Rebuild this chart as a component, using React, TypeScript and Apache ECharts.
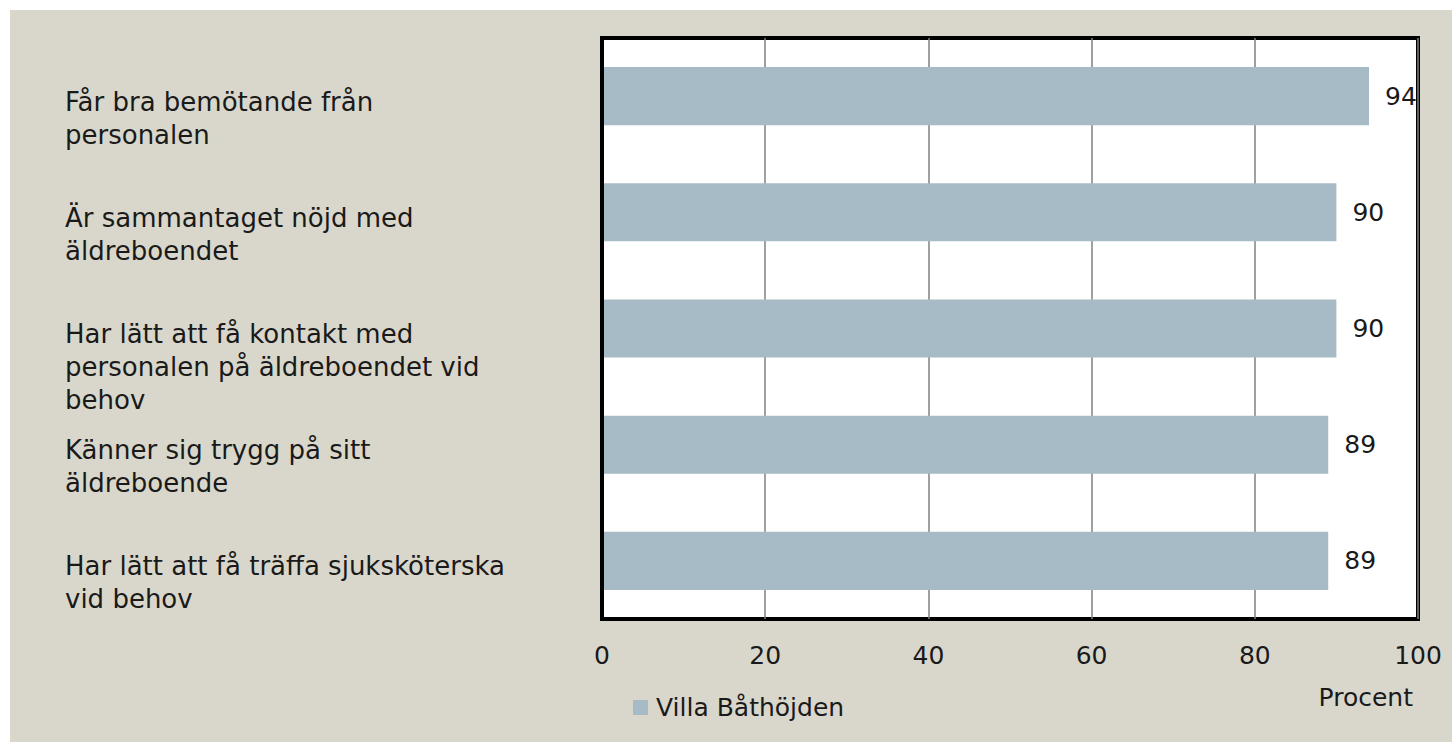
import React, { useEffect, useRef } from "react";
import * as echarts from "echarts";

const categories = [
  "Får bra bemötande från\npersonalen",
  "Är sammantaget nöjd med\näldreboendet",
  "Har lätt att få kontakt med\npersonalen på äldreboendet vid\nbehov",
  "Känner sig trygg på sitt\näldreboende",
  "Har lätt att få träffa sjuksköterska\nvid behov",
];
const values = [94, 90, 90, 89, 89];
const seriesName = "Villa Båthöjden";
const axisName = "Procent";

const FONT = "DejaVu Sans";

export default function App() {
  const ref = useRef<HTMLDivElement>(null);
  useEffect(() => {
    if (!ref.current) return;
    const chart = echarts.init(ref.current, undefined, { renderer: "svg" });
    chart.setOption({
      animation: false,
      backgroundColor: "#d9d7cc",
      textStyle: { fontFamily: FONT },
      grid: {
        show: true,
        left: 592,
        top: 28,
        right: 34,
        bottom: 123,
        backgroundColor: "#ffffff",
        borderColor: "#000000",
        borderWidth: 4,
        containLabel: false,
      },
      legend: {
        show: true,
        left: 618,
        top: 680,
        icon: "rect",
        itemWidth: 15,
        itemHeight: 15,
        itemGap: 8,
        textStyle: { fontFamily: FONT, fontSize: 25, color: "#1a1a1a", padding: [0, 0, 0, 3] },
        data: [seriesName],
      },
      xAxis: {
        type: "value",
        min: 0,
        max: 100,
        interval: 20,
        name: axisName,
        nameLocation: "end",
        nameGap: -5,
        nameTextStyle: {
          fontFamily: FONT,
          fontSize: 25,
          color: "#1a1a1a",
          align: "right",
          verticalAlign: "top",
          padding: [66, 0, 0, 0],
        },
        axisLine: { show: false },
        axisTick: { show: false },
        axisLabel: { fontFamily: FONT, fontSize: 25, color: "#1a1a1a", margin: 24 },
        splitLine: { show: true, lineStyle: { color: "#808080", width: 1.5 } },
      },
      yAxis: {
        type: "category",
        inverse: true,
        data: categories,
        axisLine: { show: true, lineStyle: { color: "#000", width: 4 } },
        z: 5,
        axisTick: { show: false },
        splitLine: { show: false },
        axisLabel: {
          fontFamily: FONT,
          fontSize: 26,
          lineHeight: 33,
          color: "#1a1a1a",
          align: "left",
          verticalAlign: "top",
          margin: 537,
          padding: [-11, 0, 0, 0],
        },
      },
      series: [
        {
          name: seriesName,
          type: "bar",
          data: values,
          barWidth: "50%",
          itemStyle: { color: "#a7bbc6" },
          label: {
            show: true,
            position: "right",
            distance: 16,
            fontFamily: FONT,
            fontSize: 25,
            color: "#1a1a1a",
          },
        },
      ],
    });
    return () => chart.dispose();
  }, []);
  return (
    <div
      ref={ref}
      style={{ position: "absolute", left: 10, top: 10, width: 1442, height: 732 }}
    />
  );
}
